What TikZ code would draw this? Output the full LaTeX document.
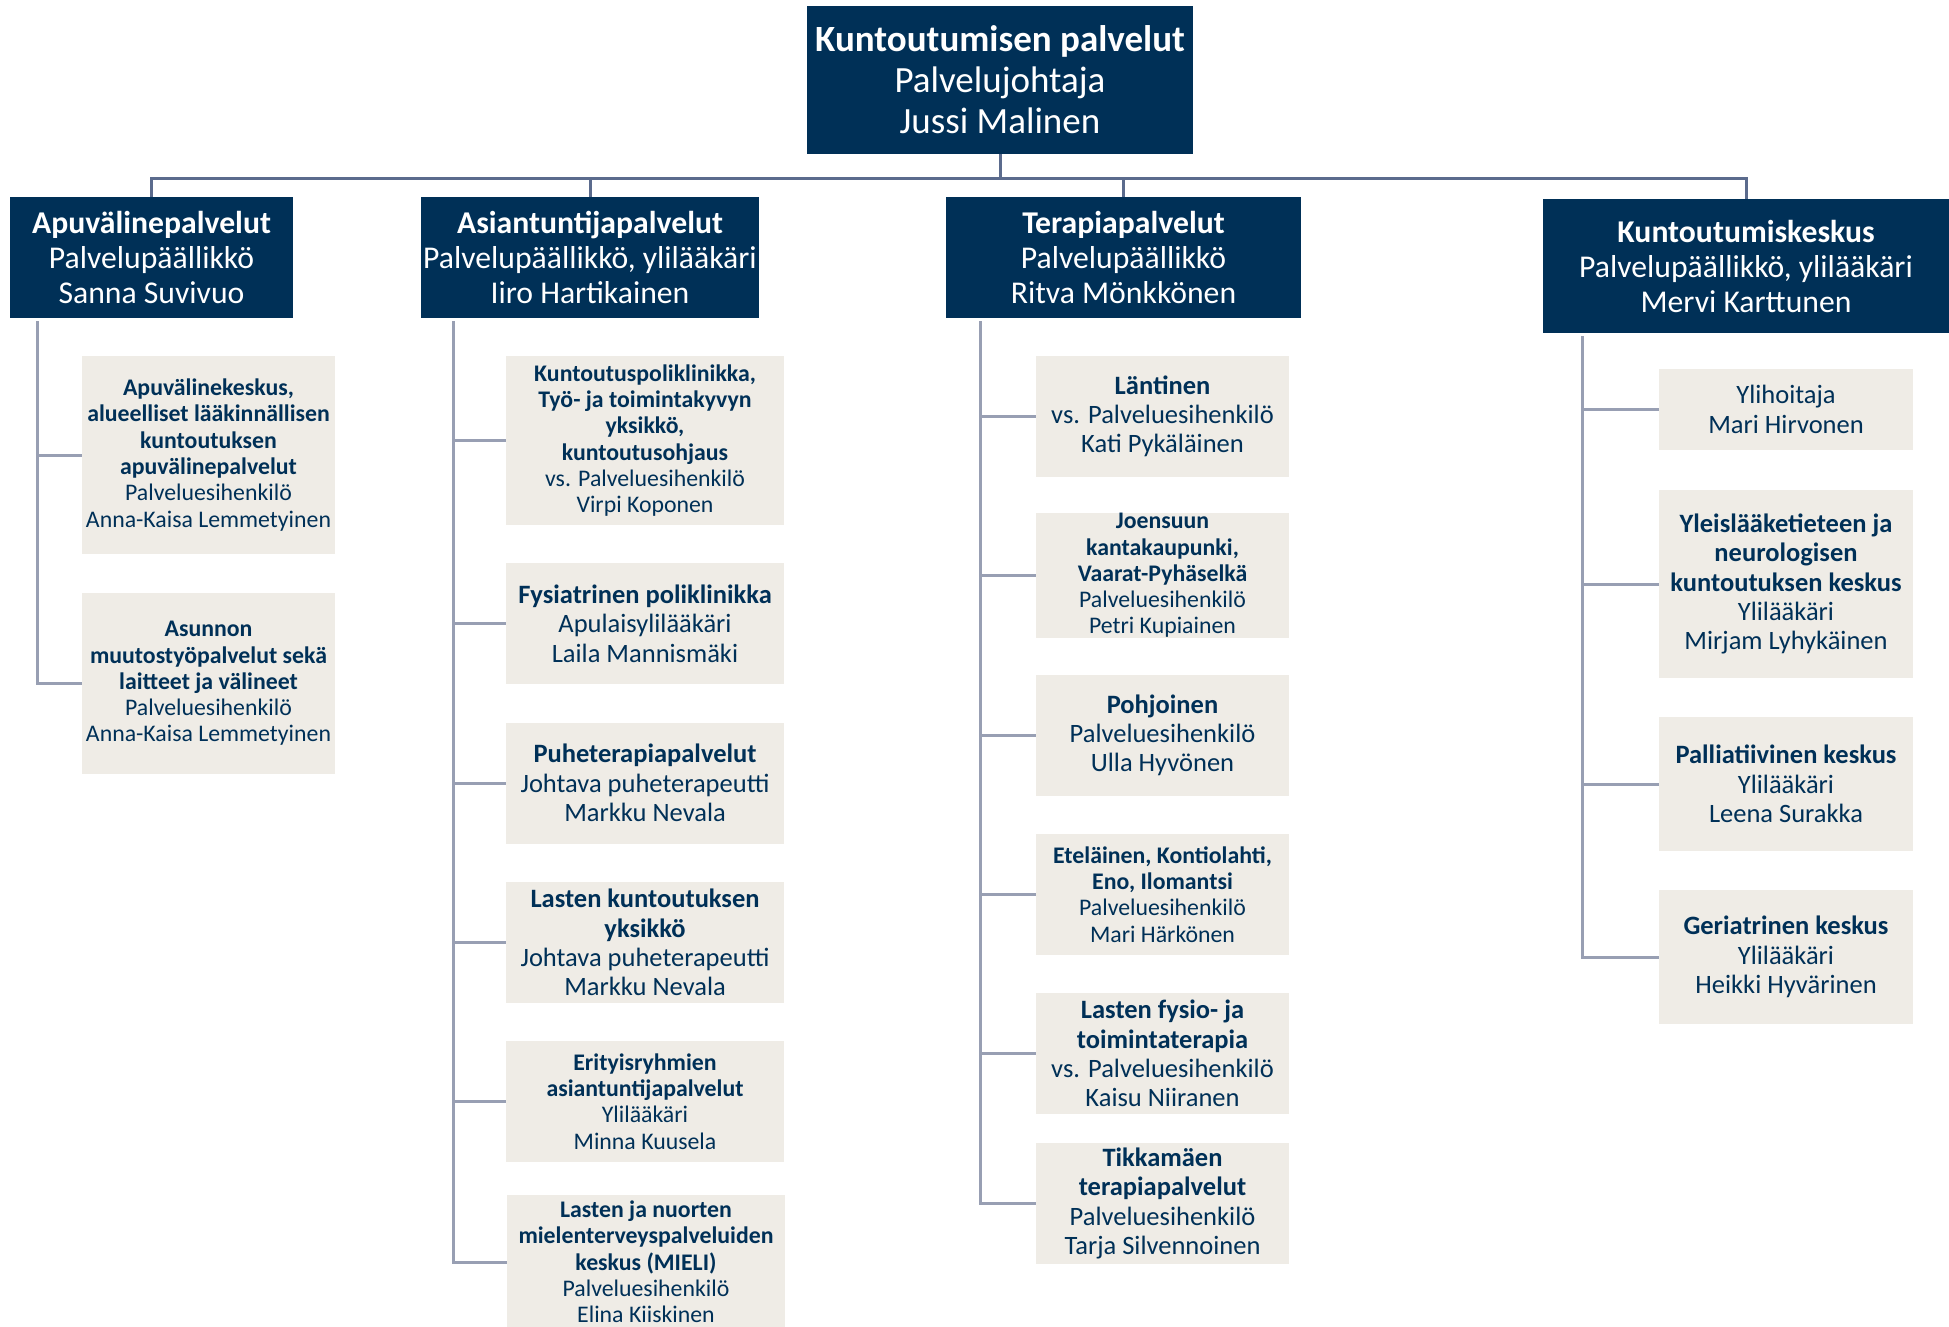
\documentclass[tikz,border=0pt]{standalone}
\usepackage{fontspec}
\setmainfont{Carlito}
\definecolor{navy}{HTML}{003057}
\definecolor{sand}{HTML}{EFECE6}
\definecolor{busline}{HTML}{5B6B8D}
\definecolor{branchline}{HTML}{989FB3}

\tikzset{
  topbox/.style={fill=navy, text=white, align=center, inner sep=0,
    minimum width=386, minimum height=148, font=\fontsize{37}{41}\selectfont},
  headbox/.style={fill=navy, text=white, align=center, inner sep=0,
    minimum height=121, font=\fontsize{31.7}{35}\selectfont},
  unitbox/.style={fill=sand, text=navy, align=center, inner sep=0,
    minimum height=121, font=\fontsize{26.5}{29.3}\selectfont},
  smallunit/.style={unitbox, font=\fontsize{23.8}{26.3}\selectfont},
  bus/.style={draw=busline, line width=3},
  branch/.style={draw=branchline, line width=3}
}

\begin{document}
\begin{tikzpicture}[x=1pt, y=-1pt]
% Page size of the chart
\useasboundingbox (0,0) rectangle (1949,1326);

% Top level
\node[topbox] (top) at (1000,80) {\textbf{Kuntoutumisen palvelut}\\Palvelujohtaja\\Jussi Malinen};

% Service areas
\node[headbox, minimum width=283] (apu) at (151.5,257.5) {\textbf{Apuvälinepalvelut}\\Palvelupäällikkö\\Sanna Suvivuo};
\node[headbox, minimum width=338] (asi) at (590,257.5) {\textbf{Asiantuntijapalvelut}\\Palvelupäällikkö, ylilääkäri\\Iiro Hartikainen};
\node[headbox, minimum width=355] (ter) at (1123.5,257.5) {\textbf{Terapiapalvelut}\\Palvelupäällikkö\\Ritva Mönkkönen};
\node[headbox, minimum width=406, minimum height=134] (kes) at (1746,266) {\textbf{Kuntoutumiskeskus}\\Palvelupäällikkö, ylilääkäri\\Mervi Karttunen};

\coordinate (busY) at (0,178);
\foreach \h in {apu,asi,ter,kes}
  \draw[bus] (top.south) -- (top.south |- busY) -| (\h.north);

% Apuvälinepalvelut units
\node[smallunit, minimum width=253, minimum height=198] (apu1) at (208.5,455) {\textbf{Apuvälinekeskus,}\\\textbf{alueelliset lääkinnällisen}\\\textbf{kuntoutuksen}\\\textbf{apuvälinepalvelut}\\Palveluesihenkilö\\Anna-Kaisa Lemmetyinen};
\node[smallunit, minimum width=253, minimum height=181] (apu2) at (208.5,683.5) {\textbf{Asunnon}\\\textbf{muutostyöpalvelut sekä}\\\textbf{laitteet ja välineet}\\Palveluesihenkilö\\Anna-Kaisa Lemmetyinen};

% Asiantuntijapalvelut units
\node[smallunit, minimum width=278, minimum height=169] (asi1) at (645,440.5) {\textbf{Kuntoutuspoliklinikka,}\\\textbf{Työ- ja toimintakyvyn}\\\textbf{yksikkö,}\\\textbf{kuntoutusohjaus}\\vs. Palveluesihenkilö\\Virpi Koponen};
\node[unitbox, minimum width=278] (asi2) at (645,623.5) {\textbf{Fysiatrinen poliklinikka}\\Apulaisylilääkäri\\Laila Mannismäki};
\node[unitbox, minimum width=278] (asi3) at (645,783) {\textbf{Puheterapiapalvelut}\\Johtava puheterapeutti\\Markku Nevala};
\node[unitbox, minimum width=278] (asi4) at (645,942.5) {\textbf{Lasten kuntoutuksen}\\\textbf{yksikkö}\\Johtava puheterapeutti\\Markku Nevala};
\node[smallunit, minimum width=278] (asi5) at (645,1101.5) {\textbf{Erityisryhmien}\\\textbf{asiantuntijapalvelut}\\Ylilääkäri\\Minna Kuusela};
\node[smallunit, minimum width=278, minimum height=134] (asi6) at (646,1262) {\textbf{Lasten ja nuorten}\\\textbf{mielenterveyspalveluiden}\\\textbf{keskus (MIELI)}\\Palveluesihenkilö\\Elina Kiiskinen};

% Terapiapalvelut units
\node[unitbox, minimum width=253] (ter1) at (1162.5,416.5) {\textbf{Läntinen}\\vs. Palveluesihenkilö\\Kati Pykäläinen};
\node[smallunit, minimum width=253] (ter2) at (1162.5,575.5) {\textbf{Joensuun}\\\textbf{kantakaupunki,}\\\textbf{Vaarat-Pyhäselkä}\\Palveluesihenkilö\\Petri Kupiainen};
\node[unitbox, minimum width=253] (ter3) at (1162.5,735.5) {\textbf{Pohjoinen}\\Palveluesihenkilö\\Ulla Hyvönen};
\node[smallunit, minimum width=253] (ter4) at (1162.5,894.5) {\textbf{Eteläinen, Kontiolahti,}\\\textbf{Eno, Ilomantsi}\\Palveluesihenkilö\\Mari Härkönen};
\node[unitbox, minimum width=253] (ter5) at (1162.5,1053.5) {\textbf{Lasten fysio- ja}\\\textbf{toimintaterapia}\\vs. Palveluesihenkilö\\Kaisu Niiranen};
\node[unitbox, minimum width=253] (ter6) at (1162.5,1203.5) {\textbf{Tikkamäen}\\\textbf{terapiapalvelut}\\Palveluesihenkilö\\Tarja Silvennoinen};

% Kuntoutumiskeskus units
\node[unitbox, minimum width=254, minimum height=81] (kes1) at (1786,409.5) {Ylihoitaja\\Mari Hirvonen};
\node[unitbox, minimum width=254, minimum height=188] (kes2) at (1786,584) {\textbf{Yleislääketieteen ja}\\\textbf{neurologisen}\\\textbf{kuntoutuksen keskus}\\Ylilääkäri\\Mirjam Lyhykäinen};
\node[unitbox, minimum width=254, minimum height=134] (kes3) at (1786,784) {\textbf{Palliatiivinen keskus}\\Ylilääkäri\\Leena Surakka};
\node[unitbox, minimum width=254, minimum height=134] (kes4) at (1786,957) {\textbf{Geriatrinen keskus}\\Ylilääkäri\\Heikki Hyvärinen};

% Branch lines
\coordinate (apuR) at (37,321);
\coordinate (asiR) at (453,321);
\coordinate (terR) at (980,321);
\coordinate (kesR) at (1582,336);
\foreach \u in {apu1,apu2} \draw[branch] (apuR) |- (\u.west);
\foreach \u in {asi1,asi2,asi3,asi4,asi5,asi6} \draw[branch] (asiR) |- (\u.west);
\foreach \u in {ter1,ter2,ter3,ter4,ter5,ter6} \draw[branch] (terR) |- (\u.west);
\foreach \u in {kes1,kes2,kes3,kes4} \draw[branch] (kesR) |- (\u.west);
\end{tikzpicture}
\end{document}
